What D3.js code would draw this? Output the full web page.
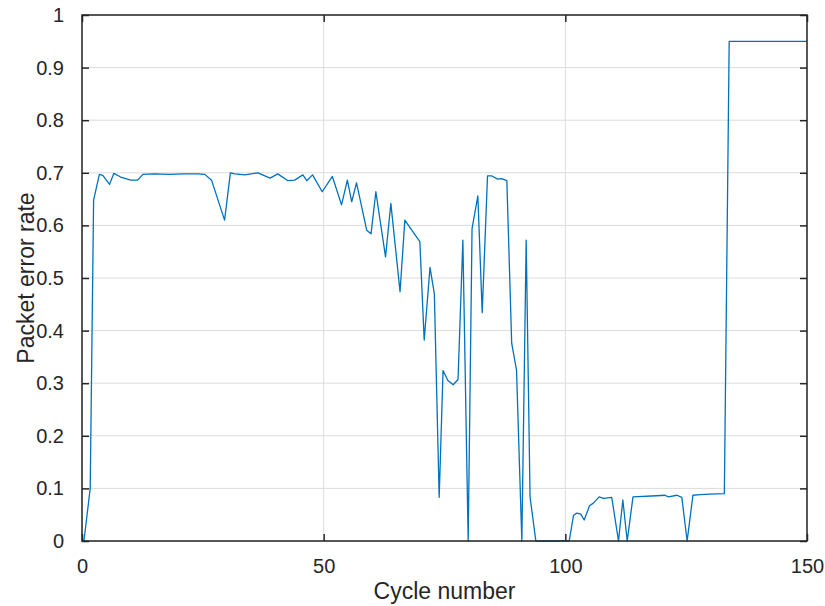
<!DOCTYPE html>
<html lang="en">
<head>
    <meta charset="utf-8">
    <title>Packet error rate</title>
    <script src="https://cdn.jsdelivr.net/npm/d3@7"></script>
    <style>
        body { margin: 0; background: #fff; }
        text { font-family: "Liberation Sans", Arial, Helvetica, sans-serif; fill: #262626; }
    </style>
</head>
<body>
<div id="chart"></div>

<script>
    // values
    var cycles = [0.4, 1.7, 2.4, 3.6, 4.3, 5.7, 6.6, 8.0, 10.1, 11.5, 12.6, 15, 18, 21, 24, 25.4,
        26.8, 29.5, 30.7, 31.6, 33.7, 36.4, 38.9, 40.5, 42.6, 44.0, 45.7, 46.5, 47.7, 49.7,
        51.8, 53.7, 54.9, 55.8, 56.8, 58.9, 59.8, 60.8, 62.8, 63.9, 65.8, 66.8, 68.3, 69.9,
        70.8, 72.0, 72.9, 73.9, 74.7, 75.7, 76.8, 77.8, 78.8, 79.9, 80.7, 81.9, 82.8, 83.9,
        84.8, 86.0, 86.8, 87.9, 88.9, 89.9, 91.0, 91.9, 92.7, 93.9, 100.8, 101.7, 102.4,
        103.2, 103.9, 105.0, 105.8, 107.0, 107.9, 109.6, 111.0, 111.9, 112.8, 114.0, 118.9,
        120.6, 121.3, 123.1, 124.1, 125.2, 126.4, 127.9, 130, 132.9, 133.9, 150];

    var errorRate = [0, 0.10, 0.648, 0.697, 0.695, 0.678, 0.699, 0.692, 0.686, 0.686, 0.697, 0.698, 0.697, 0.698, 0.698, 0.697,
        0.686, 0.61, 0.70, 0.698, 0.696, 0.70, 0.69, 0.698, 0.685, 0.686, 0.696, 0.685, 0.696, 0.664,
        0.693, 0.639, 0.686, 0.645, 0.681, 0.591, 0.584, 0.664, 0.54, 0.642, 0.474, 0.61, 0.59, 0.569,
        0.382, 0.52, 0.47, 0.083, 0.324, 0.305, 0.297, 0.307, 0.572, 0, 0.594, 0.656, 0.434, 0.694,
        0.694, 0.688, 0.689, 0.685, 0.376, 0.325, 0, 0.572, 0.084, 0, 0, 0.049, 0.053,
        0.051, 0.04, 0.067, 0.072, 0.084, 0.081, 0.083, 0, 0.078, 0, 0.084, 0.086,
        0.087, 0.084, 0.087, 0.083, 0, 0.087, 0.088, 0.089, 0.09, 0.95, 0.95];

    var xTicks = [0, 50, 100, 150];
    var yTicks = [0, 0.1, 0.2, 0.3, 0.4, 0.5, 0.6, 0.7, 0.8, 0.9, 1];

    var data = cycles.map(function(c, i) { return { x: c, y: errorRate[i] }; });

    var W = 825, H = 606,
        margin = { top: 15, right: 18, bottom: 65, left: 82 },
        width = W - margin.left - margin.right,
        height = H - margin.top - margin.bottom;

    var svg = d3.select('#chart').append('svg')
        .attr('width', W)
        .attr('height', H);

    var g = svg.append('g')
        .attr('transform', 'translate(' + margin.left + ',' + margin.top + ')');

    var x = d3.scaleLinear().domain([0, 150]).range([0, width]);
    var y = d3.scaleLinear().domain([0, 1]).range([height, 0]);

    // grid
    g.append('g').selectAll('line.gx')
        .data(xTicks)
        .enter()
        .append('line')
        .attr('x1', function(d) { return x(d); })
        .attr('x2', function(d) { return x(d); })
        .attr('y1', 0).attr('y2', height)
        .attr('stroke', '#dcdcdc').attr('stroke-width', 1);

    g.append('g').selectAll('line.gy')
        .data(yTicks)
        .enter()
        .append('line')
        .attr('x1', 0).attr('x2', width)
        .attr('y1', function(d) { return y(d); })
        .attr('y2', function(d) { return y(d); })
        .attr('stroke', '#dcdcdc').attr('stroke-width', 1);

    // line
    var line = d3.line()
        .x(function(d) { return x(d.x); })
        .y(function(d) { return y(d.y); });

    g.append('path')
        .datum(data)
        .attr('fill', 'none')
        .attr('stroke', '#0072BD')
        .attr('stroke-width', 1.3)
        .attr('stroke-linejoin', 'round')
        .attr('d', line);

    // axes, ticks pointing inward on all four sides
    var tickLen = 7;
    function styleAxis(sel) {
        sel.select('.domain').remove();
        sel.selectAll('.tick line').attr('stroke', '#262626').attr('stroke-width', 1.5);
        sel.selectAll('.tick text').attr('font-size', 20).attr('fill', '#262626');
    }

    g.append('g')
        .attr('transform', 'translate(0,' + height + ')')
        .call(d3.axisBottom(x).tickValues(xTicks).tickSizeInner(-tickLen).tickSizeOuter(0).tickPadding(18))
        .call(styleAxis);

    g.append('g')
        .call(d3.axisTop(x).tickValues(xTicks).tickSizeInner(-tickLen).tickSizeOuter(0).tickFormat(''))
        .call(styleAxis);

    g.append('g')
        .call(d3.axisLeft(y).tickValues(yTicks).tickSizeInner(-tickLen).tickSizeOuter(0).tickPadding(18)
            .tickFormat(function(d) { return d === 0 || d === 1 ? d : d3.format('.1f')(d); }))
        .call(styleAxis);

    g.append('g')
        .attr('transform', 'translate(' + width + ',0)')
        .call(d3.axisRight(y).tickValues(yTicks).tickSizeInner(-tickLen).tickSizeOuter(0).tickFormat(''))
        .call(styleAxis);

    // box
    g.append('rect')
        .attr('width', width).attr('height', height)
        .attr('fill', 'none')
        .attr('stroke', '#262626').attr('stroke-width', 1.5);

    // labels
    svg.append('text')
        .attr('x', margin.left + width / 2)
        .attr('y', 599)
        .attr('text-anchor', 'middle')
        .attr('font-size', 23)
        .text('Cycle number');

    svg.append('text')
        .attr('transform', 'translate(34,' + (margin.top + height / 2) + ') rotate(-90)')
        .attr('text-anchor', 'middle')
        .attr('font-size', 23)
        .text('Packet error rate');
</script>
</body>
</html>
